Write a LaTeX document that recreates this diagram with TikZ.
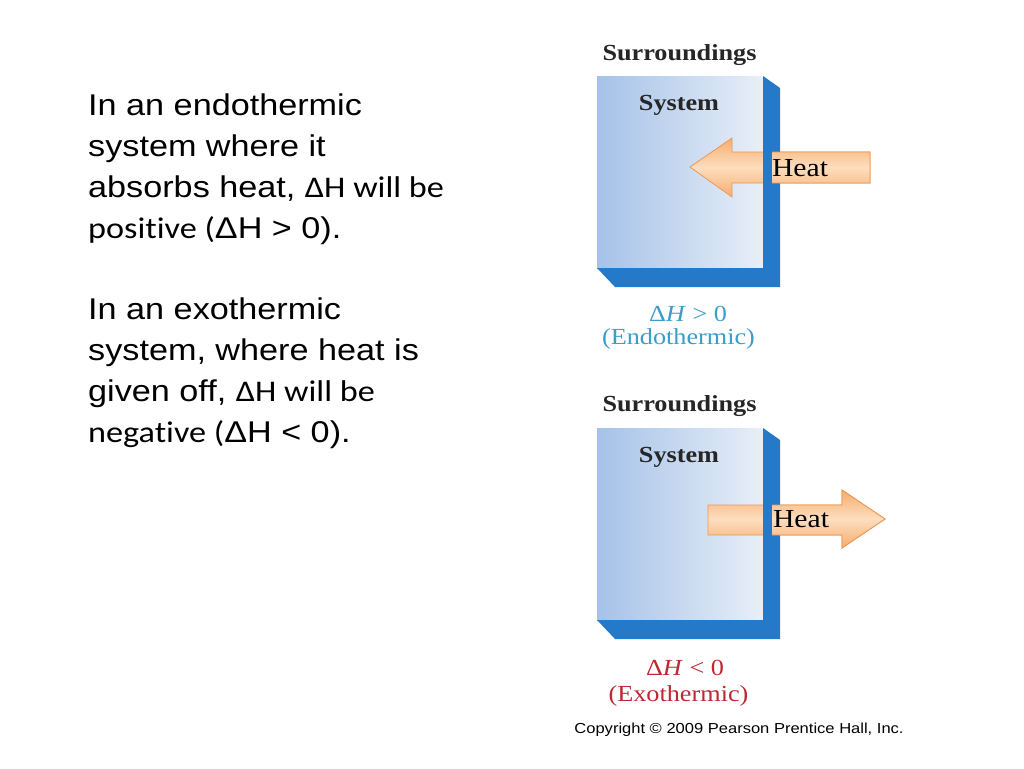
\documentclass[tikz,border=0pt]{standalone}
\usepackage{fontspec}
\setmainfont{Liberation Sans}[FakeStretch=1.14]
\newfontfamily\calib{Carlito}[FakeStretch=1.14,Ligatures=NoCommon]
\newfontfamily\figfont{Liberation Serif}[FakeStretch=1.14]

\definecolor{sysleft}{RGB}{166,194,232}
\definecolor{sysright}{RGB}{232,239,248}
\definecolor{wallblue}{RGB}{36,121,200}
\definecolor{heatdark}{RGB}{246,172,110}
\definecolor{heatlight}{RGB}{253,222,190}
\definecolor{heatedge}{RGB}{240,150,80}
\definecolor{endocol}{RGB}{58,158,200}
\definecolor{exocol}{RGB}{190,40,52}

\tikzset{
  bodytext/.style={anchor=base west,align=left,inner sep=0pt,font=\fontsize{30}{41}\selectfont},
  figbold/.style={anchor=base,inner sep=0pt,text=black!85,font=\figfont\bfseries\fontsize{23}{26}\selectfont},
  figtext/.style={anchor=base,inner sep=0pt,font=\figfont\fontsize{23}{27}\selectfont},
  heatlabel/.style={figtext,font=\figfont\fontsize{26}{28}\selectfont},
  wallfront/.style={left color=sysleft,right color=sysright},
  wallside/.style={fill=wallblue},
  heatarrow/.style={top color=heatdark,bottom color=heatdark,middle color=heatlight,draw=heatedge,line width=0.8pt},
  inarrow/.pic={\path[heatarrow] (0,0) -- (42,-29) -- (42,-15) -- (180,-15) -- (180,16) -- (42,16) -- (42,30) -- cycle;},
  outarrow/.pic={\path[heatarrow] (0,0) -- (-43,-29) -- (-43,-14) -- (-177,-14) -- (-177,16) -- (-43,16) -- (-43,29) -- cycle;}
}

\begin{document}
\begin{tikzpicture}[x=1pt,y=-1pt]
\useasboundingbox[fill=white] (0,0) rectangle (1024,768);

% text on the left (anchored at the baseline of the last line)
\node[bodytext] (endotext) at (88,238.7) {In an endothermic\\system where it\\absorbs heat, {\calib ΔH will be}\\{\calib positive (}ΔH > 0).};
\node[bodytext] (exotext) at (88,442.5) {In an exothermic\\system, where heat is\\given off, {\calib ΔH will be}\\{\calib negative (}ΔH < 0).};

% endothermic panel
\path[wallfront] (597,76) rectangle (763,268);
\pic at (690,167) {inarrow};
\fill[wallside] (763,76) -- (780,88) -- (780,287) -- (615,287) -- (597,268) -- (763,268) -- cycle;
\begin{scope}
  \clip (772,0) rectangle (1024,768);
  \pic at (690,167) {inarrow};
\end{scope}
\node[figbold] (surr1) at (679.5,60) {Surroundings};
\node[figbold] (sys1) at (679,110.7) {System};
\node[heatlabel] (heat1) at (800,176.7) {Heat};
\node[figtext,text=endocol] (dh1) at (688,321.7) {Δ\textit{H} > 0};
\node[figtext,text=endocol] (kind1) at (678.5,344.5) {(Endothermic)};

% exothermic panel
\begin{scope}[yshift=-352pt]
  \path[wallfront] (597,76) rectangle (763,268);
  \pic at (885,167) {outarrow};
  \fill[wallside] (763,76) -- (780,88) -- (780,287) -- (615,287) -- (597,268) -- (763,268) -- cycle;
  \begin{scope}
    \clip (772,0) rectangle (1024,300);
    \pic at (885,167) {outarrow};
  \end{scope}
  \node[figbold] (surr2) at (679.5,59) {Surroundings};
  \node[figbold] (sys2) at (679,110.7) {System};
  \node[heatlabel] (heat2) at (801,175.7) {Heat};
  \node[figtext,text=exocol] (dh2) at (685,323) {Δ\textit{H} < 0};
  \node[figtext,text=exocol] (kind2) at (678.5,349.7) {(Exothermic)};
\end{scope}

\node[anchor=base,inner sep=0pt,font=\fontsize{14.5}{16}\selectfont] (copy) at (739,733) {Copyright © 2009 Pearson Prentice Hall, Inc.};
\end{tikzpicture}
\end{document}
